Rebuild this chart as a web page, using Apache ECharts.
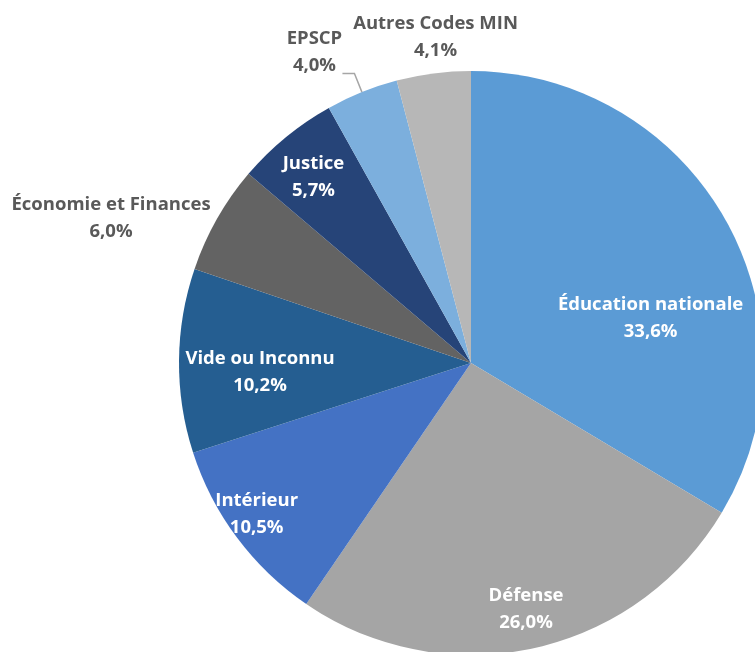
<!DOCTYPE html>
<html>
<head>
<meta charset="utf-8">
<script src="https://cdn.jsdelivr.net/npm/echarts@6/dist/echarts.min.js"></script>
<style>
  html, body { margin: 0; padding: 0; background: #fff; }
  #chart { width: 755px; height: 652px; }
</style>
</head>
<body>
<div id="chart"></div>
<script>
// parts, clockwise from 12 o'clock
var names = ['Éducation nationale', 'Défense', 'Intérieur', 'Vide ou Inconnu',
  'Économie et Finances', 'Justice', 'EPSCP', 'Autres Codes MIN']
var values = [33.6, 26.0, 10.5, 10.2, 6.0, 5.7, 4.0, 4.1]
var colors = ['#5B9BD5', '#A5A5A5', '#4472C4', '#255E91', '#636363', '#264478', '#7CAFDD', '#B7B7B7']

// which labels sit outside the pie
var outside = [false, false, false, false, true, false, true, true]

// label nudges (relative to where echarts puts them)
var nudge = [
  [50, 29], [23, 101], [-95, 62], [-62, 10],
  [-101, -1], [-63, -71], [-23, -21], [7, -36]
]

var chart = echarts.init(document.getElementById('chart'))

var data = names.map(function (n, i) {
  var item = { name: n, value: values[i], itemStyle: { color: colors[i] } }
  if (outside[i]) {
    item.label = { position: 'outside', color: '#595959' }
    if (n === 'EPSCP') {
      item.labelLine = { show: true, length: 20, length2: 12, lineStyle: { color: '#A6A6A6', width: 1.5 } }
    } else {
      item.labelLine = { show: false, length: 0, length2: 0 }
    }
  }
  return item
})

chart.setOption({
  backgroundColor: '#fff',
  animation: false,
  series: [
    {
      type: 'pie',
      center: [471, 363],
      radius: 292,
      startAngle: 90,
      clockwise: true,
      avoidLabelOverlap: false,
      data: data,
      label: {
        show: true,
        position: 'inside',
        color: '#fff',
        fontFamily: 'Open Sans',
        fontWeight: 'bold',
        fontSize: 18.5,
        lineHeight: 27,
        formatter: function (p) {
          return p.name + '\n' + p.value.toFixed(1).replace('.', ',') + '%'
        }
      },
      labelLayout: function (p) {
        var d = nudge[p.dataIndex]
        return { dx: d[0], dy: d[1], align: 'center', verticalAlign: 'middle' }
      },
      itemStyle: { borderWidth: 0 }
    }
  ]
})
</script>
</body>
</html>
